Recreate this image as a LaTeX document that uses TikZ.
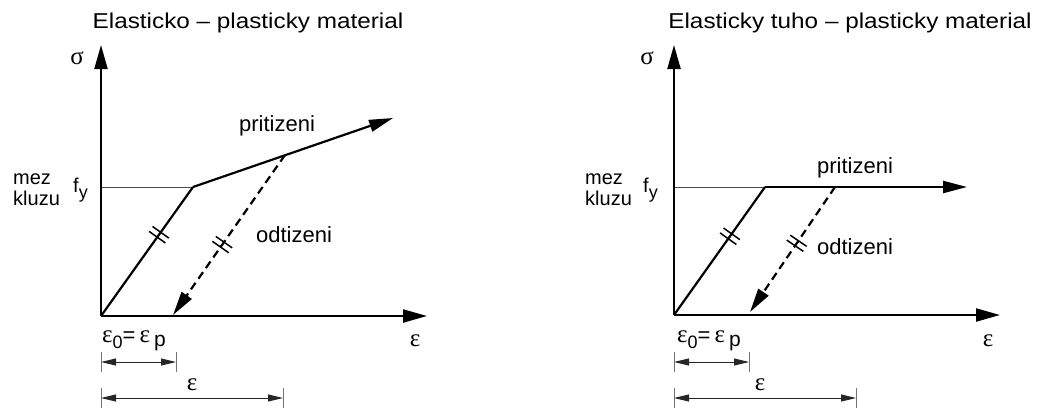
\documentclass[tikz,border=0pt]{standalone}
\usepackage{fontspec}
\setmainfont{Liberation Sans}
\newfontfamily\grk{Liberation Serif}
\usetikzlibrary{arrows.meta,decorations.markings}
\newcommand{\eps}{{\grk\fontsize{25}{26}\selectfont ε}}
\newcommand{\epsnull}{\eps\raisebox{-6pt}{\fontsize{18}{18}\selectfont 0}\fontsize{22}{22}\selectfont=\hspace{4pt}\eps\hspace{4pt}\raisebox{-4pt}{\fontsize{21}{20}\selectfont p}}
\newcommand{\fy}{{\fontsize{20}{20}\selectfont f\raisebox{-6pt}{\fontsize{18}{18}\selectfont y}}}
\begin{document}
\begin{tikzpicture}[x=1pt,y=-1pt,
  axis/.style={line width=2.2pt,-{Triangle[length=24pt,width=13pt]}},
  curve/.style={line width=2.2pt},
  load/.style={line width=2.2pt,-{Triangle[length=24pt,width=12pt]}},
  unload/.style={line width=2.2pt,dash pattern=on 8pt off 5pt,-{Triangle[length=24pt,width=12pt]}},
  thinln/.style={line width=1pt,draw=black!70},
  dimln/.style={line width=1pt,draw=black!85,{Triangle[length=15pt,width=7pt]}-{Triangle[length=15pt,width=7pt]}},
  dimtick/.style={line width=1pt,draw=black!55},
  dticks/.style={postaction={decorate,decoration={markings,mark=at position #1 with {\draw[solid,-,line width=1.5pt] (-3pt,-10pt)--(-3pt,10pt) (3pt,-10pt)--(3pt,10pt);}}}},
  lbl/.style={inner sep=0pt,font=\fontsize{22}{24}\selectfont},
  small/.style={inner sep=0pt,font=\fontsize{20}{21}\selectfont},
  gr/.style={inner sep=0pt,font=\grk\fontsize{25}{26}\selectfont},
  ttl/.style={inner sep=0pt,font=\fontsize{21.5}{24}\selectfont}
]
\useasboundingbox (0,0) rectangle (1039,408);

% ---------- left diagram ----------
\coordinate (O1) at (101,316);
\coordinate (Y1) at (101,45);
\coordinate (X1) at (427,316);
\coordinate (K1) at (193,187);
\coordinate (F1) at (101,187);
\coordinate (P1) at (393,118);
\coordinate (U1) at (285,155);
\coordinate (E1) at (173,315);
\coordinate (A1) at (176,352);
\coordinate (B1) at (283,388);

\node[ttl] (t1) at (248,23) {\scalebox{1.13}[1]{Elasticko – plasticky material}};
\node[gr] (s1) at (77,58) {σ};
\node[small,anchor=base west] (m1) at (13,184) {mez};
\node[small,anchor=base west] (k1) at (13,205) {kluzu};
\node[inner sep=0pt,anchor=base west] (f1) at (73,192) {\fy};
\node[lbl,anchor=base] (pr1) at (277,131) {pritizeni};
\node[lbl,anchor=base] (od1) at (294,242) {odtizeni};
\node[inner sep=0pt,anchor=base west] (e01) at (102,342) {\epsnull};
\node[gr] (ex1) at (415,341) {ε};
\node[gr] (ed1) at (192,385) {ε};

\draw[thinln] (F1) -- (K1);
\draw[axis] (O1) -- (Y1);
\draw[axis] (O1) -- (X1);
\draw[curve,dticks=0.63] (O1) -- (K1);
\draw[load] (K1) -- (P1);
\draw[unload,dticks=0.56] (U1) -- (E1);

\draw[dimtick] (O1 |- 0,352) -- (O1 |- 0,372);
\draw[dimtick] (A1) -- (A1 |- 0,372);
\draw[dimln] (O1 |- 0,362) -- (A1 |- 0,362);
\draw[dimtick] (O1 |- 0,388) -- (O1 |- 0,408);
\draw[dimtick] (B1) -- (B1 |- 0,408);
\draw[dimln] (O1 |- 0,398) -- (B1 |- 0,398);

% ---------- right diagram ----------
\coordinate (O2) at (674,315);
\coordinate (Y2) at (674,45);
\coordinate (X2) at (1000,315);
\coordinate (K2) at (765,187);
\coordinate (F2) at (674,187);
\coordinate (P2) at (967,187);
\coordinate (U2) at (835,187);
\coordinate (E2) at (750,312);
\coordinate (A2) at (749,352);
\coordinate (B2) at (856,388);

\node[ttl] (t2) at (850,23) {\scalebox{1.13}[1]{Elasticky tuho – plasticky material}};
\node[gr] (s2) at (647,58) {σ};
\node[small,anchor=base west] (m2) at (585,184) {mez};
\node[small,anchor=base west] (k2) at (585,205) {kluzu};
\node[inner sep=0pt,anchor=base west] (f2) at (643,192) {\fy};
\node[lbl,anchor=base] (pr2) at (855,173) {pritizeni};
\node[lbl,anchor=base] (od2) at (855,254) {odtizeni};
\node[inner sep=0pt,anchor=base west] (e02) at (677,342) {\epsnull};
\node[gr] (ex2) at (988,341) {ε};
\node[gr] (ed2) at (760,385) {ε};

\draw[thinln] (F2) -- (K2);
\draw[axis] (O2) -- (Y2);
\draw[axis] (O2) -- (X2);
\draw[curve,dticks=0.615] (O2) -- (K2);
\draw[load] (K2) -- (P2);
\draw[unload,dticks=0.45] (U2) -- (E2);

\draw[dimtick] (O2 |- 0,352) -- (O2 |- 0,372);
\draw[dimtick] (A2) -- (A2 |- 0,372);
\draw[dimln] (O2 |- 0,362) -- (A2 |- 0,362);
\draw[dimtick] (O2 |- 0,388) -- (O2 |- 0,408);
\draw[dimtick] (B2) -- (B2 |- 0,408);
\draw[dimln] (O2 |- 0,398) -- (B2 |- 0,398);
\end{tikzpicture}
\end{document}
